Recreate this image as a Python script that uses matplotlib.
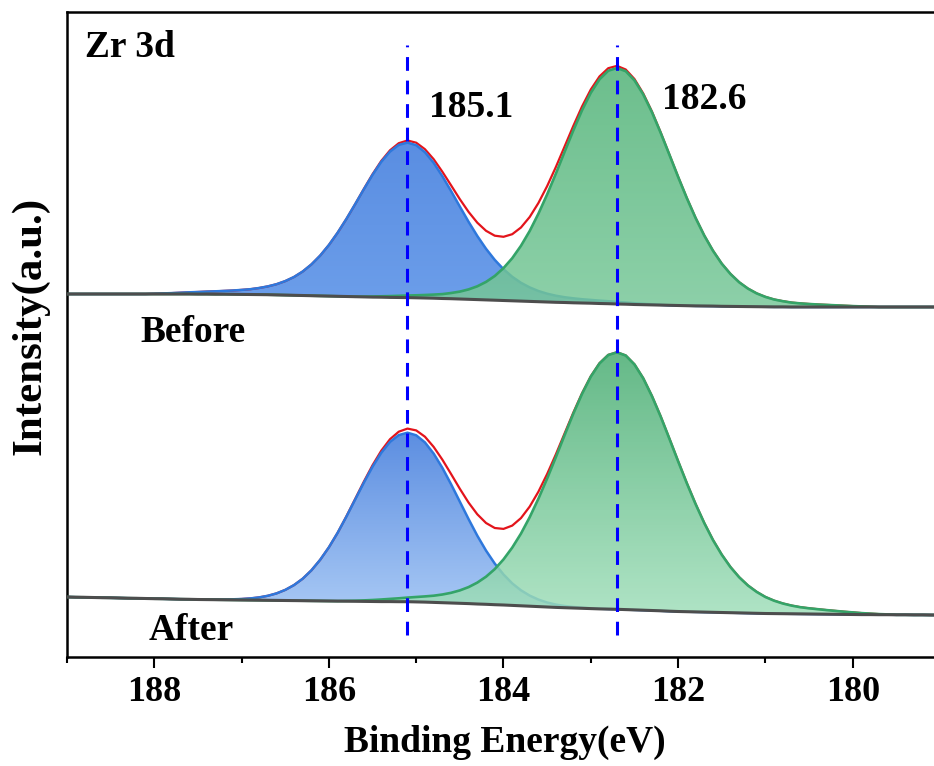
import numpy as np
import matplotlib
matplotlib.use("Agg")
import matplotlib.pyplot as plt
from matplotlib.colors import to_rgb
from matplotlib.ticker import MultipleLocator

plt.rcParams['font.family'] = ['Liberation Serif', 'DejaVu Serif']
plt.rcParams['font.weight'] = 'bold'

# energy grid, 189.0 -> 179.0 eV in 0.1 eV steps
energy = np.round(np.linspace(189.0, 179.0, 101), 1)

# Shirley-type backgrounds (a.u.)
base_before = [363.0] * 15 + [
    362.9, 362.9, 362.8, 362.8, 362.7, 362.6, 362.5, 362.4, 362.3, 362.1,
    361.9, 361.7, 361.5, 361.3, 361.1, 360.9, 360.7, 360.5, 360.3, 360.1,
    359.9, 359.8, 359.6, 359.5, 359.4, 359.2, 359.0, 358.8, 358.5, 358.3,
    358.0, 357.7, 357.4, 357.1, 356.8, 356.5, 356.2, 355.9, 355.6, 355.3,
    355.0, 354.7, 354.5, 354.2, 354.0, 353.8, 353.5, 353.3, 353.0, 352.8,
    352.5, 352.3, 352.1, 351.9, 351.7, 351.5, 351.3, 351.1, 351.0, 350.9,
    350.7, 350.6, 350.5, 350.4, 350.3, 350.2] + [350.1, 350.1] + [350.0] * 18

base_after = [
    60.0, 59.8, 59.7, 59.5, 59.3, 59.2, 59.0, 58.8, 58.7, 58.5,
    58.3, 58.2, 58.0, 57.8, 57.7, 57.5, 57.4, 57.3, 57.2, 57.1,
    57.0, 56.9, 56.8, 56.7, 56.6, 56.5, 56.4, 56.3, 56.2, 56.1,
    56.0, 55.9, 55.8, 55.7, 55.6, 55.5, 55.4, 55.4, 55.3, 55.3,
    55.1, 54.9, 54.6, 54.3, 54.0, 53.7, 53.4, 53.0, 52.7, 52.3,
    52.0, 51.6, 51.2, 50.8, 50.4, 50.0, 49.6, 49.3, 49.0, 48.7,
    48.4, 48.1, 47.9, 47.7, 47.4, 47.1, 46.8, 46.5, 46.2, 45.8,
    45.5, 45.3, 45.1, 44.9, 44.7, 44.5, 44.3, 44.1, 43.9, 43.7,
    43.5, 43.4, 43.3, 43.2, 43.1, 43.0, 42.9, 42.8, 42.7, 42.6,
    42.5, 42.4, 42.4, 42.3, 42.3, 42.2, 42.2, 42.1, 42.1, 42.0,
    42.0]

# fitted components above background: Zr 3d3/2 (~185.1 eV) and Zr 3d5/2 (~182.7 eV)
d32_before = [0.0] * 10 + [
    0.3, 0.6, 0.9, 1.3, 1.7, 2.1, 2.5, 2.9, 3.3, 3.8, 4.5, 5.3, 6.6, 8.3, 10.7,
    14.0, 18.3, 24.0, 31.3, 40.3, 51.1, 63.6, 77.5, 92.4, 107.6, 122.3, 135.4,
    145.8, 152.6, 155.0, 152.6, 145.8, 135.4, 122.3, 107.6, 92.4, 77.5, 63.6,
    51.1, 40.3, 31.3, 24.0, 18.3, 14.0, 10.7, 8.3, 6.6, 5.3, 4.5, 3.8, 3.3, 2.9,
    2.5, 2.1, 1.7, 1.3, 0.9, 0.6, 0.3] + [0.0] * 32

d52_before = [0.0] * 34 + [
    0.3, 0.6, 0.9, 1.3, 1.7, 2.1, 2.5, 3.0, 3.6, 4.4, 5.7, 7.4, 9.9, 13.3, 18.0,
    24.2, 32.4, 42.6, 55.3, 70.4, 88.0, 107.6, 128.7, 150.7, 172.4, 192.8, 210.4,
    224.2, 233.0, 236.0, 233.0, 224.2, 210.4, 192.8, 172.4, 150.7, 128.7, 107.6,
    88.0, 70.4, 55.3, 42.6, 32.4, 24.2, 18.0, 13.3, 9.9, 7.4, 5.7, 4.4, 3.6, 3.0,
    2.5, 2.1, 1.7, 1.3, 0.9, 0.6, 0.3] + [0.0] * 8

d32_after = [0.0] * 16 + [
    0.1, 0.2, 0.3, 0.6, 1.0, 1.7, 2.8, 4.5, 7.0, 10.6, 15.5, 22.0, 30.5, 41.1,
    53.7, 68.3, 84.5, 101.6, 118.7, 134.8, 148.8, 159.7, 166.6, 169.0, 166.6,
    159.7, 148.8, 134.8, 118.7, 101.6, 84.5, 68.3, 53.7, 41.1, 30.5, 22.0, 15.5,
    10.6, 7.0, 4.5, 2.8, 1.7, 1.0, 0.6, 0.3, 0.2, 0.1] + [0.0] * 38

d52_after = [0.0] * 32 + [
    0.3, 0.6, 1.0, 1.5, 2.1, 2.7, 3.4, 4.1, 4.9, 5.7, 6.7, 8.2, 10.2, 12.9, 16.5,
    21.4, 27.6, 35.6, 45.6, 57.8, 72.2, 89.0, 107.9, 128.5, 150.3, 172.6, 194.4,
    214.5, 232.0, 245.5, 254.1, 257.0, 254.1, 245.5, 232.0, 214.5, 194.4, 172.6,
    150.3, 128.5, 107.9, 89.0, 72.2, 57.8, 45.6, 35.6, 27.6, 21.4, 16.5, 12.9,
    10.2, 8.2, 6.7, 5.7, 4.9, 4.1, 3.4, 2.7, 2.1, 1.5, 1.0, 0.6, 0.3] + [0.0] * 6

# dashed marker lines and their labels
line_positions = [185.1, 182.7]
peak_labels = ['185.1', '182.6']


def gradient_fill(ax, x, lower, upper, top_color, bottom_color, alpha, z):
    poly = ax.fill_between(x, lower, upper, facecolor='none', edgecolor='none')
    t = np.linspace(0, 1, 256)[:, None, None]
    c0 = np.array(to_rgb(bottom_color))
    c1 = np.array(to_rgb(top_color))
    rgba = np.ones((256, 1, 4)) * alpha
    rgba[..., :3] = c0 + (c1 - c0) * t
    im = ax.imshow(rgba, extent=[x.max(), x.min(), lower.min(), upper.max()],
                   origin='lower', aspect='auto', interpolation='bilinear', zorder=z)
    im.set_clip_path(poly.get_paths()[0], ax.transData)


fig = plt.figure(figsize=(9.34, 7.66), dpi=100)
ax = fig.add_axes([67 / 934, 1 - 657 / 766, 873 / 934, 645 / 766])

spectra = [
    (base_before, d32_before, d52_before, ('#5a8ee2', '#6c9eea'), ('#52b378', '#78c899')),
    (base_after, d32_after, d52_after, ('#5c8ee1', '#aacaf5'), ('#49ad72', '#a1dfbb')),
]

for base, p1, p2, blue_cols, green_cols in spectra:
    base = np.array(base)
    p1 = np.array(p1)
    p2 = np.array(p2)
    gradient_fill(ax, energy, base, base + p1, blue_cols[0], blue_cols[1], 1.0, 1)
    # envelope sits under the component outlines
    ax.plot(energy, base + p1 + p2, color='#e3141b', lw=1.6, zorder=1.5)
    ax.plot(energy, base + p1, color='#2e78dc', lw=1.8, zorder=2)
    gradient_fill(ax, energy, base, base + p2, green_cols[0], green_cols[1], 0.85, 3)
    ax.plot(energy, base + p2, color='#34a468', lw=1.9, zorder=4)
    ax.plot(energy, base, color='#4d4d4d', lw=2.2, zorder=5)

ax.vlines(line_positions, 22, 612, colors='#0000ff', lw=2.2,
          linestyles=(0, (4.5, 3.2)), zorder=6)

ax.text(188.79, 600, 'Zr 3d', fontsize=27, ha='left', va='baseline')
ax.text(184.85, 540, peak_labels[0], fontsize=27, ha='left', va='baseline')
ax.text(182.19, 548, peak_labels[1], fontsize=27, ha='left', va='baseline')
ax.text(188.16, 315, 'Before', fontsize=27, ha='left', va='baseline')
ax.text(188.07, 17, 'After', fontsize=27, ha='left', va='baseline')

ax.set_xlim(189, 179)
ax.set_ylim(0, 645)
ax.set_xticks([188, 186, 184, 182, 180])
ax.xaxis.set_minor_locator(MultipleLocator(1))
ax.tick_params(axis='x', which='major', direction='out', length=8, width=1.5,
               labelsize=26, pad=6)
ax.tick_params(axis='x', which='minor', direction='out', length=4.5, width=1.5)
ax.set_yticks([])
for side in ['left', 'top', 'bottom']:
    ax.spines[side].set_linewidth(1.8)
ax.spines['right'].set_visible(False)

fig.text(505 / 934, 1 - 752 / 766, 'Binding Energy(eV)', fontsize=27,
         ha='center', va='baseline')
fig.text(30 / 934, 1 - 326 / 766, 'Intensity(a.u.)', fontsize=31,
         rotation=90, ha='center', va='center')

fig.savefig('out.png', dpi=100)
